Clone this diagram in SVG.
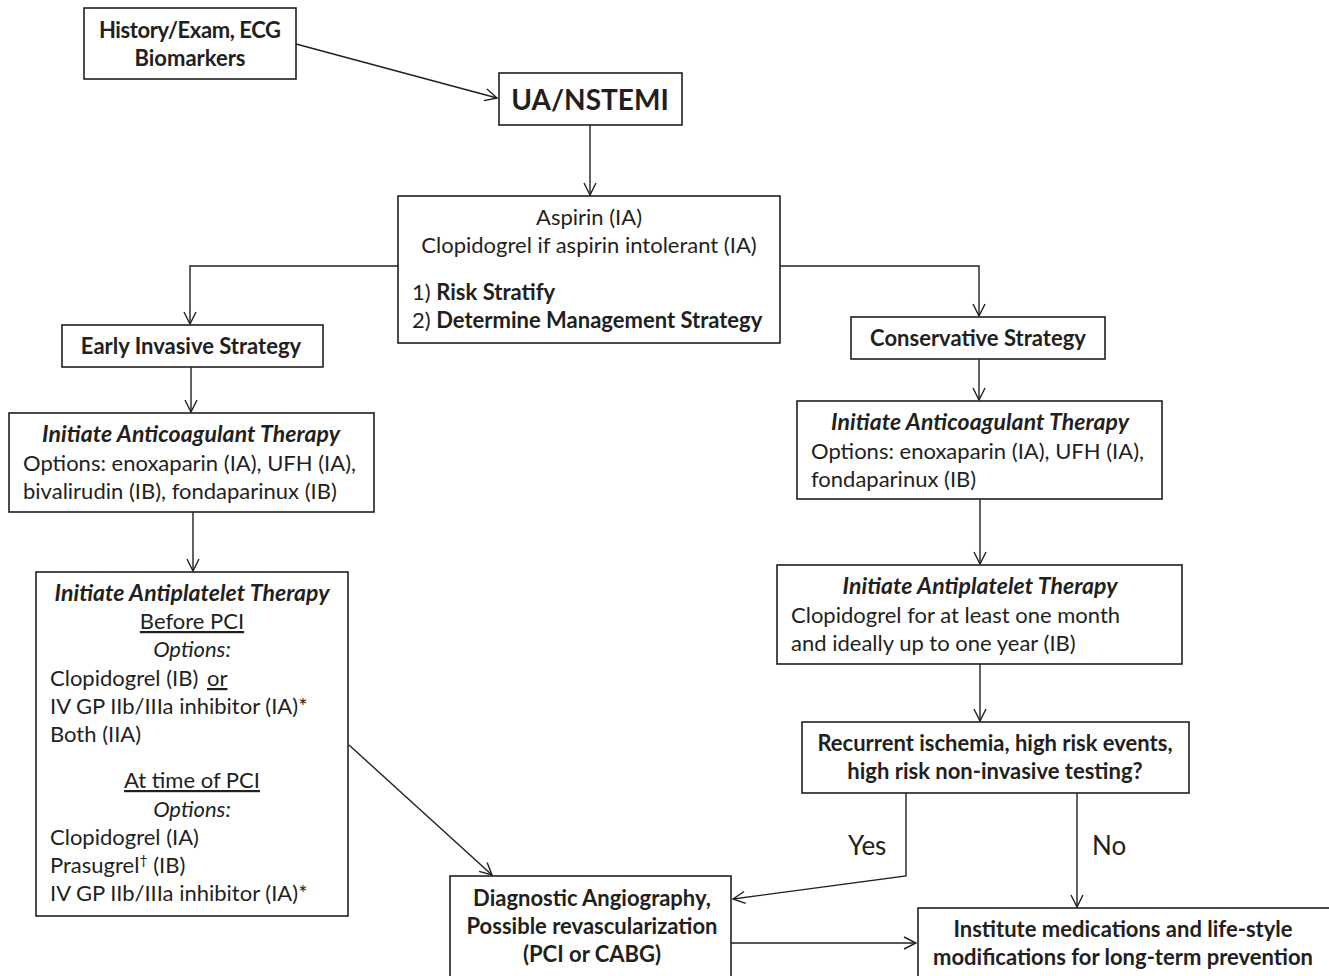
<svg xmlns="http://www.w3.org/2000/svg" width="1329" height="976" viewBox="0 0 1329 976">
<style>
.box{fill:#fff;stroke:#231f20;stroke-width:1.6}
.t{font-family:Lato,"Open Sans","Liberation Sans",sans-serif;font-size:22px;fill:#231f20}
.b{font-weight:bold}
.i{font-style:italic}
.bi{font-weight:bold;font-style:italic;font-size:23px}
.c{text-anchor:middle}
.u{text-decoration:underline}
.ln{fill:none;stroke:#231f20;stroke-width:1.4}
</style>
<defs>
<marker id="ah" markerUnits="userSpaceOnUse" markerWidth="14" markerHeight="14" viewBox="0 0 14 14" refX="13" refY="7" orient="auto">
<path d="M1,1 L13,7 L1,13" fill="none" stroke="#231f20" stroke-width="1.4"/>
</marker>
</defs>
<rect width="1329" height="976" fill="#fff"/>
<g id="connectors">
<line class="ln" x1="296" y1="44" x2="497" y2="98" marker-end="url(#ah)"/>
<line class="ln" x1="590" y1="125" x2="590" y2="195" marker-end="url(#ah)"/>
<polyline class="ln" points="398,266 190,266 190,324" marker-end="url(#ah)"/>
<polyline class="ln" points="780,266 979,266 979,316" marker-end="url(#ah)"/>
<line class="ln" x1="191" y1="367" x2="191" y2="412" marker-end="url(#ah)"/>
<line class="ln" x1="193" y1="512" x2="193" y2="571" marker-end="url(#ah)"/>
<line class="ln" x1="349" y1="745" x2="492" y2="875" marker-end="url(#ah)"/>
<line class="ln" x1="979" y1="359" x2="979" y2="400" marker-end="url(#ah)"/>
<line class="ln" x1="980" y1="499" x2="980" y2="564" marker-end="url(#ah)"/>
<line class="ln" x1="980" y1="664" x2="980" y2="721" marker-end="url(#ah)"/>
<polyline class="ln" points="906,793 906,876 733,899" marker-end="url(#ah)"/>
<line class="ln" x1="1077" y1="793" x2="1077" y2="907" marker-end="url(#ah)"/>
<line class="ln" x1="731" y1="943" x2="916" y2="943" marker-end="url(#ah)"/>
<text class="t" x="848" y="855" style="font-size:26px">Yes</text>
<text class="t" x="1092" y="855" style="font-size:26px">No</text>
</g>
<g id="history">
<rect class="box" x="84" y="8" width="212" height="71"/>
<text class="t b c" x="190" y="38" textLength="182">History/Exam, ECG</text>
<text class="t b c" x="190" y="66">Biomarkers</text>
</g>
<g id="uanstemi">
<rect class="box" x="499" y="73" width="183" height="52"/>
<text class="t b c" x="590" y="110" style="font-size:28px">UA/NSTEMI</text>
</g>
<g id="aspirin">
<rect class="box" x="398" y="196" width="382" height="147"/>
<text class="t c" x="589" y="225">Aspirin (IA)</text>
<text class="t c" x="589" y="253">Clopidogrel if aspirin intolerant (IA)</text>
<text class="t" x="412" y="300">1) <tspan class="b">Risk Stratify</tspan></text>
<text class="t" x="412" y="328">2) <tspan class="b">Determine Management Strategy</tspan></text>
</g>
<g id="early">
<rect class="box" x="62" y="325" width="261" height="42"/>
<text class="t b c" x="191" y="354">Early Invasive Strategy</text>
</g>
<g id="anticoag-left">
<rect class="box" x="9" y="413" width="365" height="99"/>
<text class="t bi c" x="191" y="442" textLength="298">Initiate Anticoagulant Therapy</text>
<text class="t" x="23" y="471">Options: enoxaparin (IA), UFH (IA),</text>
<text class="t" x="23" y="499">bivalirudin (IB), fondaparinux (IB)</text>
</g>
<g id="antiplatelet-left">
<rect class="box" x="36" y="572" width="312" height="344"/>
<text class="t bi c" x="192" y="601" textLength="275">Initiate Antiplatelet Therapy</text>
<text class="t c u" x="192" y="629">Before PCI</text>
<text class="t i c" x="192" y="657">Options:</text>
<text class="t" x="50" y="686">Clopidogrel (IB)<tspan class="u" x="207">or</tspan></text>
<text class="t" x="50" y="714">IV GP IIb/IIIa inhibitor (IA)*</text>
<text class="t" x="50" y="742">Both (IIA)</text>
<text class="t c u" x="192" y="788">At time of PCI</text>
<text class="t i c" x="192" y="817">Options:</text>
<text class="t" x="50" y="845">Clopidogrel (IA)</text>
<text class="t" x="50" y="873">Prasugrel<tspan dy="-8" style="font-size:14px">†</tspan><tspan dy="8"> (IB)</tspan></text>
<text class="t" x="50" y="901">IV GP IIb/IIIa inhibitor (IA)*</text>
</g>
<g id="conservative">
<rect class="box" x="851" y="317" width="254" height="42"/>
<text class="t b c" x="978" y="346">Conservative Strategy</text>
</g>
<g id="anticoag-right">
<rect class="box" x="797" y="401" width="365" height="98"/>
<text class="t bi c" x="980" y="430" textLength="298">Initiate Anticoagulant Therapy</text>
<text class="t" x="811" y="459">Options: enoxaparin (IA), UFH (IA),</text>
<text class="t" x="811" y="487">fondaparinux (IB)</text>
</g>
<g id="antiplatelet-right">
<rect class="box" x="777" y="565" width="405" height="99"/>
<text class="t bi c" x="980" y="594" textLength="275">Initiate Antiplatelet Therapy</text>
<text class="t" x="791" y="623">Clopidogrel for at least one month</text>
<text class="t" x="791" y="651">and ideally up to one year (IB)</text>
</g>
<g id="recurrent">
<rect class="box" x="802" y="722" width="387" height="71"/>
<text class="t b c" x="995" y="751">Recurrent ischemia, high risk events,</text>
<text class="t b c" x="995" y="779">high risk non-invasive testing?</text>
</g>
<g id="diagnostic">
<rect class="box" x="450" y="876" width="281" height="104"/>
<text class="t b c" x="592" y="906">Diagnostic Angiography,</text>
<text class="t b c" x="592" y="934">Possible revascularization</text>
<text class="t b c" x="592" y="962">(PCI or CABG)</text>
</g>
<g id="institute">
<rect class="box" x="918" y="908" width="415" height="72"/>
<text class="t b c" x="1123" y="937">Institute medications and life-style</text>
<text class="t b c" x="1123" y="965">modifications for long-term prevention</text>
</g>
</svg>
